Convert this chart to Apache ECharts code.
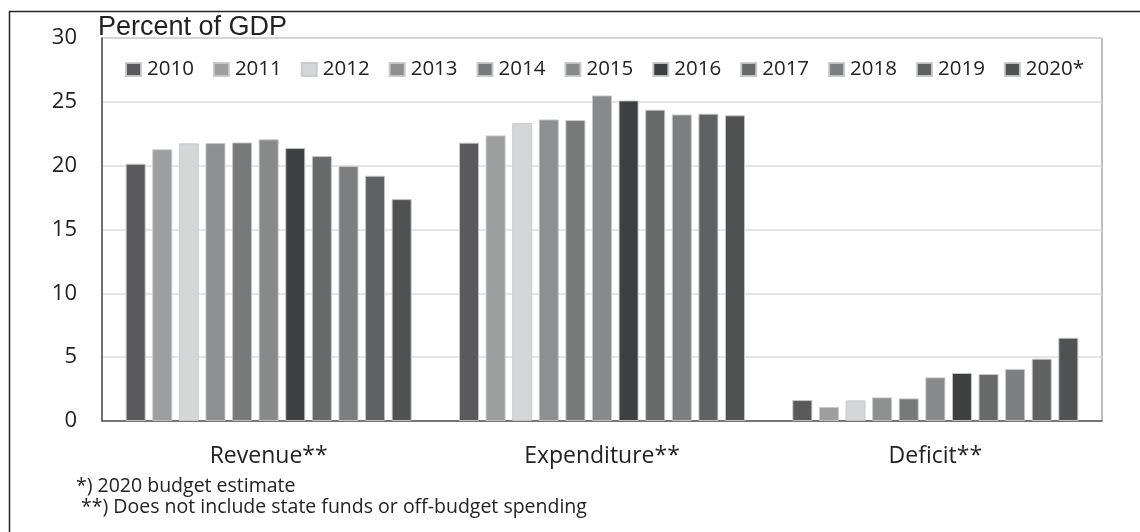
<!DOCTYPE html>
<html>
<head>
<meta charset="utf-8">
<script src="https://cdn.jsdelivr.net/npm/echarts@6/dist/echarts.min.js"></script>
<style>html,body{margin:0;padding:0;background:#fff}#c{width:1140px;height:532px}</style>
</head>
<body>
<div id="c"></div>
<script>
var categories = ['Revenue**', 'Expenditure**', 'Deficit**'];
var years = ['2010', '2011', '2012', '2013', '2014', '2015', '2016', '2017', '2018', '2019', '2020*'];
var colors = ['#5a5a5c', '#9d9ea0', '#d5d6d8', '#8e8f91', '#78797b', '#88898b', '#3e3f41', '#68696b', '#7d7e80', '#606163', '#505153'];
var revenue = [20.15, 21.28, 21.75, 21.77, 21.82, 22.06, 21.38, 20.75, 19.97, 19.21, 17.38];
var expenditure = [21.8, 22.37, 23.34, 23.62, 23.57, 25.5, 25.11, 24.38, 24.01, 24.07, 23.94];
var deficit = [1.64, 1.1, 1.62, 1.85, 1.77, 3.42, 3.76, 3.68, 4.07, 4.88, 6.52];
var yTicks = [0, 5, 10, 15, 20, 25, 30];
var footnotes = ['*) 2020 budget estimate', ' **) Does not include state funds or off-budget spending'];

var FONT = '"Open Sans", sans-serif';
var series = years.map(function (y, i) {
  return {
    name: y,
    type: 'bar',
    barWidth: 20,
    barGap: '33%',
    itemStyle: { color: colors[i], borderColor: 'rgba(200,200,200,0.9)', borderWidth: 1 },
    data: [revenue[i], expenditure[i], deficit[i]]
  };
});

var chart = echarts.init(document.getElementById('c'));
chart.setOption({
  animation: false,
  backgroundColor: '#fff',
  color: colors,
  grid: { left: 102, right: 38, top: 38, bottom: 111, show: true, borderColor: '#808080', borderWidth: 1 },
  legend: {
    left: 120, top: 54,
    itemWidth: 15, itemHeight: 13, itemGap: 19,
    icon: 'rect',
    textStyle: { fontFamily: FONT, fontSize: 20.5, color: '#222', padding: [0, 0, 0, 1] },
    data: years
  },
  xAxis: {
    type: 'category',
    data: categories,
    axisLine: { lineStyle: { color: '#555', width: 1.5 } },
    axisTick: { show: false },
    axisLabel: { fontFamily: FONT, fontSize: 23, color: '#222', margin: 24 }
  },
  yAxis: {
    type: 'value',
    min: yTicks[0], max: yTicks[yTicks.length - 1], interval: 5,
    axisLine: { show: true, lineStyle: { color: '#555', width: 1.5 } },
    axisTick: { show: false },
    splitLine: { lineStyle: { color: '#dcdcdc', width: 1.5 } },
    axisLabel: { fontFamily: FONT, fontSize: 22, color: '#222', margin: 25 }
  },
  graphic: [
    { type: 'rect', left: 7, top: 9, shape: { width: 1200, height: 600 }, style: { fill: 'none', stroke: '#222', lineWidth: 1.5 }, silent: true },
    { type: 'text', left: 98, top: 14, style: { text: 'Percent of GDP', font: '27px "Liberation Sans", Arial, sans-serif', fill: '#222' } },
    { type: 'text', left: 76, top: 476, style: { text: footnotes[0], font: '19.5px "Open Sans", sans-serif', fill: '#222' } },
    { type: 'text', left: 76, top: 497, style: { text: footnotes[1], font: '19.5px "Open Sans", sans-serif', fill: '#222' } }
  ],
  series: series
});
</script>
</body>
</html>
